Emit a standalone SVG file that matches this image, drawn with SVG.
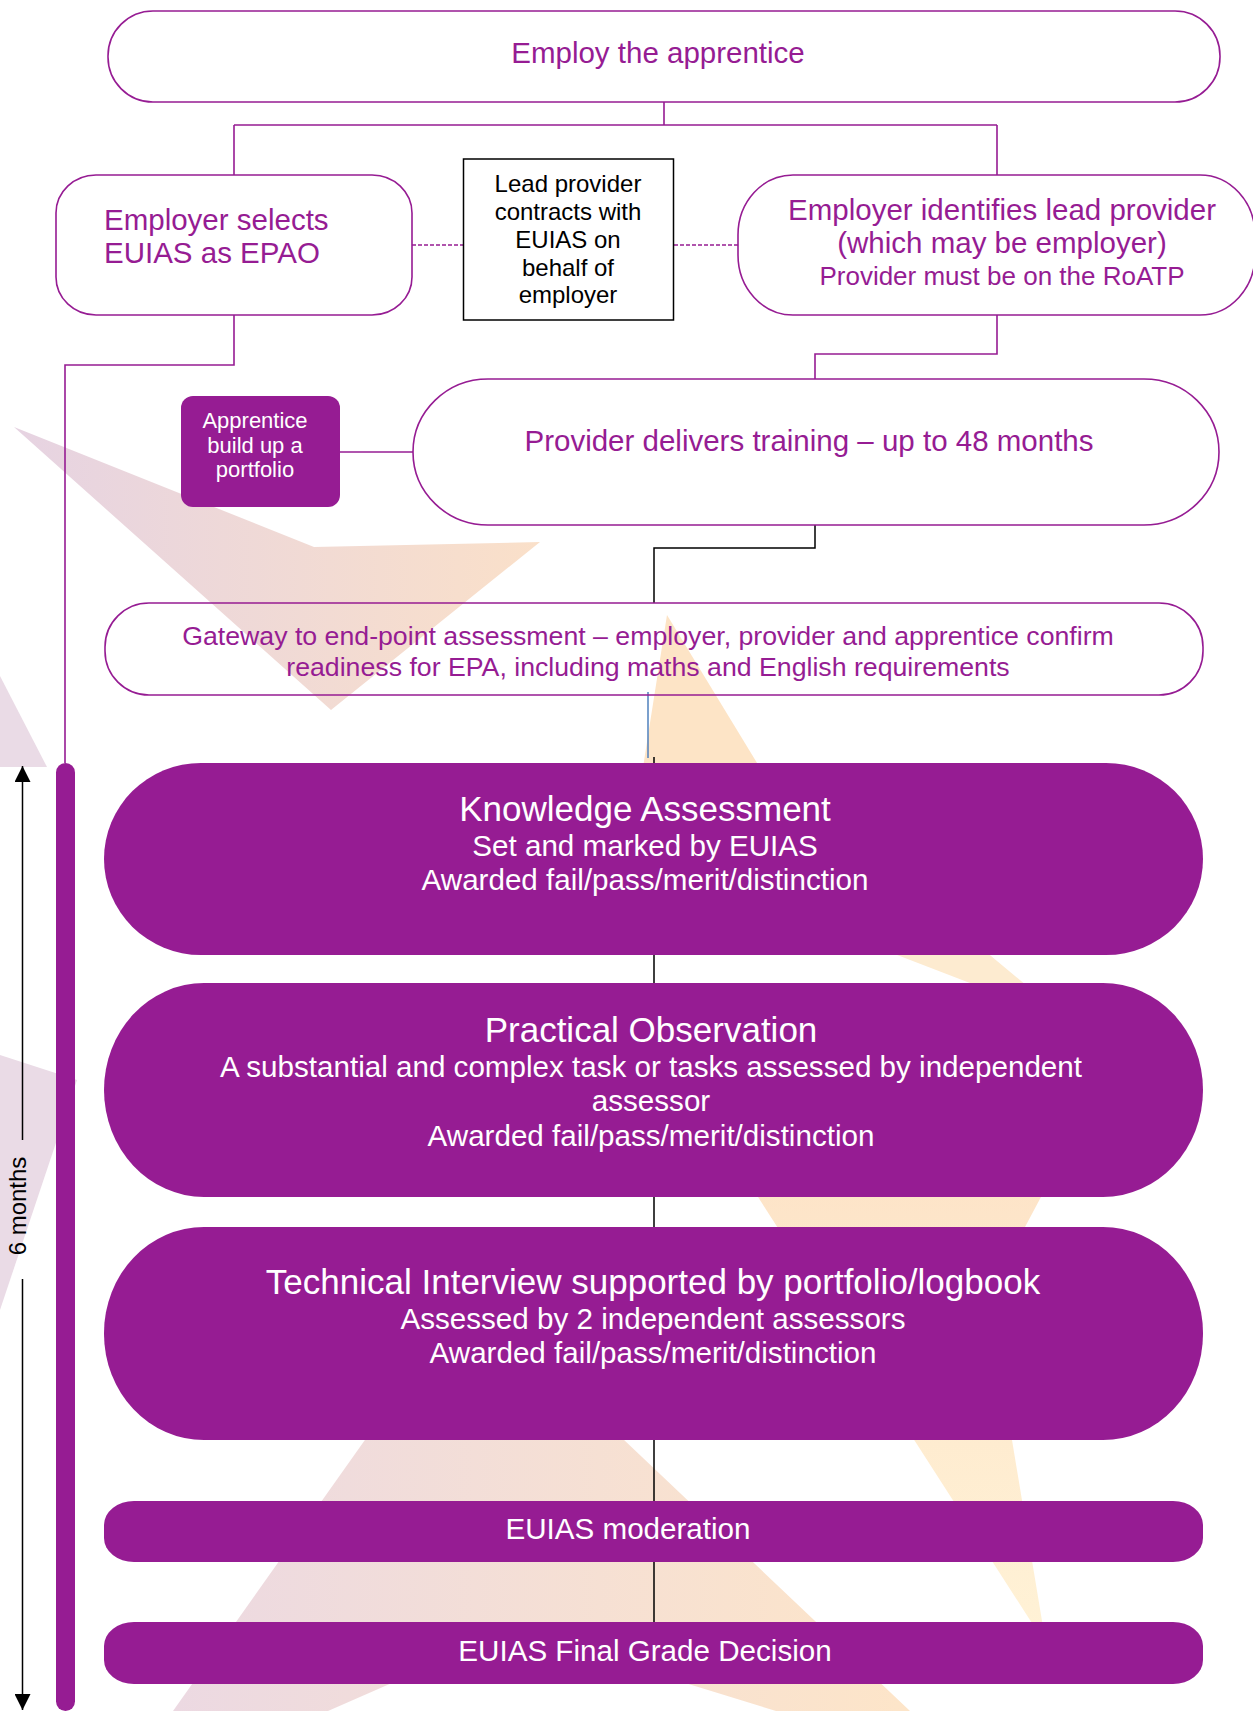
<svg xmlns="http://www.w3.org/2000/svg" width="1253" height="1711" viewBox="0 0 1253 1711">
<defs>
<style>
.bg{fill:#ffffff}
.ob{fill:none;stroke:#961c93;stroke-width:1.6}
.fb{fill:#961c93;stroke:none}
.pt{font-family:"Liberation Sans",Arial,Helvetica,sans-serif;fill:#961c93;text-anchor:middle}
.wt{font-family:"Liberation Sans",Arial,Helvetica,sans-serif;fill:#ffffff;text-anchor:middle}
.bt{font-family:"Liberation Sans",Arial,Helvetica,sans-serif;fill:#000000;text-anchor:middle}
.pc{fill:none;stroke:#961c93;stroke-width:1.6}
.pd{fill:none;stroke:#961c93;stroke-width:1.4;stroke-dasharray:4 2}
.bc{fill:none;stroke:#000000;stroke-width:1.5}
</style>
<linearGradient id="gA" gradientUnits="userSpaceOnUse" x1="14" y1="0" x2="540" y2="0">
<stop offset="0" stop-color="#e6d3e2"/><stop offset="1" stop-color="#fae0c9"/>
</linearGradient>
<linearGradient id="gP" gradientUnits="userSpaceOnUse" x1="173" y1="0" x2="900" y2="0">
<stop offset="0" stop-color="#ecd9e2"/><stop offset="1" stop-color="#fde5c9"/>
</linearGradient>
<linearGradient id="gY" gradientUnits="userSpaceOnUse" x1="0" y1="1150" x2="0" y2="1640">
<stop offset="0" stop-color="#fde3c7"/><stop offset="1" stop-color="#fff2d6"/>
</linearGradient>
<marker id="ah" viewBox="0 0 16 16" refX="16" refY="8" markerWidth="16" markerHeight="16" markerUnits="userSpaceOnUse" orient="auto-start-reverse">
<path d="M0,0 L16,8 L0,16 Z" fill="#000000"/>
</marker>
</defs>
<rect class="bg" x="0" y="0" width="1253" height="1711"/>
<g id="watermark">
<polygon points="14,427 314,547 540,542 331,710" fill="url(#gA)"/>
<polygon points="667,615 810,850 630,850" fill="#fde4c6"/>
<polygon points="637,855 870,855 1069,1021" fill="#fdebd0"/>
<polygon points="731,1155 1050,1180 1025,1227 1012,1440 1046,1645" fill="url(#gY)"/>
<polygon points="469,1293 910,1711 776,1711 513,1630 328,1711 173,1711" fill="url(#gP)"/>
<polygon points="0,676 47,767 0,767" fill="#eadbe6"/>
<polygon points="0,1055 77,1080 0,1310" fill="#eadbe6"/>
</g>
<g id="connectors">
<path class="pc" d="M664,102 V125 M234,125 H997 M234,125 V175 M997,125 V175"/>
<path class="pc" d="M234,315 V365 H65 V763"/>
<path class="pc" d="M997,315 V354 H815 V379"/>
<path class="pc" d="M340,452 H413"/>
<path class="pd" d="M412,245 H463 M674,245 H738"/>
<path class="bc" d="M815,525 V548 H654 V603"/>
<path fill="none" stroke="#4f81bd" stroke-width="1.5" d="M648,692 V758"/>
<path class="bc" d="M654,757 V763 M654,955 V983 M654,1197 V1227 M654,1440 V1501 M654,1562 V1622"/>
</g>
<g id="timeline">
<rect class="fb" x="56" y="763" width="19" height="948" rx="9.5" ry="9.5"/>
<line x1="22.5" y1="1140" x2="22.5" y2="766" stroke="#000" stroke-width="1.5" marker-end="url(#ah)"/>
<line x1="22.5" y1="1279" x2="22.5" y2="1710" stroke="#000" stroke-width="1.5" marker-end="url(#ah)"/>
<text class="bt" font-size="24" transform="translate(26,1206) rotate(-90)">6 months</text>
</g>
<g id="n-employ">
<rect class="ob" x="108" y="11" width="1112" height="91" rx="45" ry="45"/>
<text class="pt" font-size="29.5" x="658" y="63">Employ the apprentice</text>
</g>
<g id="n-selects">
<rect class="ob" x="56" y="175" width="356" height="140" rx="40" ry="38"/>
<text class="pt" font-size="29.5" x="104" y="230" style="text-anchor:start">Employer selects</text>
<text class="pt" font-size="29.5" x="104" y="263" style="text-anchor:start">EUIAS as EPAO</text>
</g>
<g id="n-contract">
<rect x="463.5" y="159" width="210" height="161" fill="#ffffff" stroke="#000000" stroke-width="1.5"/>
<text class="bt" font-size="24" x="568" y="192">Lead provider</text>
<text class="bt" font-size="24" x="568" y="220">contracts with</text>
<text class="bt" font-size="24" x="568" y="248">EUIAS on</text>
<text class="bt" font-size="24" x="568" y="276">behalf of</text>
<text class="bt" font-size="24" x="568" y="303">employer</text>
</g>
<g id="n-identifies">
<rect class="ob" x="738" y="175" width="517" height="140" rx="55" ry="60"/>
<text class="pt" font-size="29.5" x="1002" y="220">Employer identifies lead provider</text>
<text class="pt" font-size="29.5" x="1002" y="253">(which may be employer)</text>
<text class="pt" font-size="26" x="1002" y="285">Provider must be on the RoATP</text>
</g>
<g id="n-portfolio">
<rect class="fb" x="181" y="396" width="159" height="111" rx="12" ry="12"/>
<text class="wt" font-size="22" x="255" y="428">Apprentice</text>
<text class="wt" font-size="22" x="255" y="453">build up a</text>
<text class="wt" font-size="22" x="255" y="477">portfolio</text>
</g>
<g id="n-training">
<rect class="ob" x="413" y="379" width="806" height="146" rx="75" ry="73"/>
<text class="pt" font-size="29.5" x="809" y="451">Provider delivers training – up to 48 months</text>
</g>
<g id="n-gateway">
<rect class="ob" x="105" y="603" width="1098" height="92" rx="44" ry="44"/>
<text class="pt" font-size="26.7" x="648" y="645">Gateway to end-point assessment – employer, provider and apprentice confirm</text>
<text class="pt" font-size="26.7" x="648" y="676">readiness for EPA, including maths and English requirements</text>
</g>
<g id="n-knowledge">
<rect class="fb" x="104" y="763" width="1099" height="192" rx="97" ry="96"/>
<text class="wt" font-size="35" x="645" y="821">Knowledge Assessment</text>
<text class="wt" font-size="29.6" x="645" y="856">Set and marked by EUIAS</text>
<text class="wt" font-size="29.6" x="645" y="890">Awarded fail/pass/merit/distinction</text>
</g>
<g id="n-practical">
<rect class="fb" x="104" y="983" width="1099" height="214" rx="100" ry="107"/>
<text class="wt" font-size="35" x="651" y="1042">Practical Observation</text>
<text class="wt" font-size="29.6" x="651" y="1077">A substantial and complex task or tasks assessed by independent</text>
<text class="wt" font-size="29.6" x="651" y="1111">assessor</text>
<text class="wt" font-size="29.6" x="651" y="1146">Awarded fail/pass/merit/distinction</text>
</g>
<g id="n-technical">
<rect class="fb" x="104" y="1227" width="1099" height="213" rx="100" ry="106"/>
<text class="wt" font-size="35" x="653" y="1294">Technical Interview supported by portfolio/logbook</text>
<text class="wt" font-size="29.6" x="653" y="1329">Assessed by 2 independent assessors</text>
<text class="wt" font-size="29.6" x="653" y="1363">Awarded fail/pass/merit/distinction</text>
</g>
<g id="n-moderation">
<rect class="fb" x="104" y="1501" width="1099" height="61" rx="30" ry="24"/>
<text class="wt" font-size="29.6" x="628" y="1539">EUIAS moderation</text>
</g>
<g id="n-final">
<rect class="fb" x="104" y="1622" width="1099" height="62" rx="30" ry="24"/>
<text class="wt" font-size="29.6" x="645" y="1661">EUIAS Final Grade Decision</text>
</g>
</svg>
